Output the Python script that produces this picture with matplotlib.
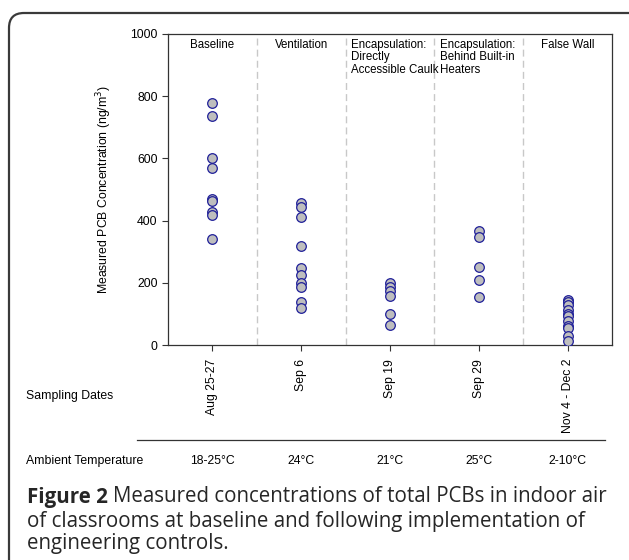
import matplotlib
matplotlib.use("Agg")
import matplotlib.pyplot as plt
from matplotlib.patches import FancyBboxPatch

plt.rcParams['font.family'] = ['Liberation Sans', 'DejaVu Sans']

W, H = 629, 560

# measured total PCB concentrations (ng/m3) per sampling phase
phases = ["Baseline", "Ventilation", "Encapsulation:\nDirectly\nAccessible Caulk",
          "Encapsulation:\nBehind Built-in\nHeaters", "False Wall"]
dates = ["Aug 25-27", "Sep 6", "Sep 19", "Sep 29", "Nov 4 - Dec 2"]
temps = ["18-25°C", "24°C", "21°C", "25°C", "2-10°C"]

baseline = [777, 736, 602, 570, 468, 464, 427, 418, 341]
ventilation = [458, 445, 410, 319, 246, 225, 198, 185, 139, 118]
caulk = [198, 188, 175, 158, 100, 64]
heaters = [367, 346, 252, 210, 153]
false_wall = [145, 138, 128, 112, 100, 92, 78, 62, 55, 30, 12]
values = [baseline, ventilation, caulk, heaters, false_wall]


def fx(x):
    return x / W


def fy(y):
    return 1 - y / H


fig = plt.figure(figsize=(W / 100, H / 100), dpi=100)

# rounded frame around the whole figure
frame = FancyBboxPatch((9, -30), 660, H - 13 + 30,
                       boxstyle="round,pad=0,rounding_size=15",
                       transform=None, fill=False, ec="#3a3a3a", lw=1.6)
fig.patches.append(frame)

ax = fig.add_axes([fx(168), fy(345), fx(612) - fx(168), (345 - 34) / H])

for i, vals in enumerate(values):
    ax.scatter([i + 1] * len(vals), vals, s=48, facecolor="#bebebe",
               edgecolor="#1f1f99", linewidth=0.9, zorder=3)

for xd in [1.5, 2.5, 3.5, 4.5]:
    ax.axvline(xd, color="#c8c8c8", ls=(0, (5, 3)), lw=1.0, zorder=1)

ax.set_xlim(0.5, 5.5)
ax.set_ylim(0, 1000)
ax.set_yticks(range(0, 1001, 200))
ax.set_xticks(range(1, 6))
ax.set_xticklabels(dates, rotation=90, fontsize=8.8, va="top")
ax.tick_params(axis="y", labelsize=8.8, length=4, width=0.8, color="#333333")
ax.tick_params(axis="x", length=4, width=0.8, pad=6, color="#333333")
for sp in ax.spines.values():
    sp.set_linewidth(0.9)
    sp.set_color("#333333")
ax.set_ylabel("Measured PCB Concentration (ng/m$^3$)", fontsize=8.8, labelpad=12)

# phase names along the top of each panel
for i, name in enumerate(phases):
    if name.startswith("Encapsulation"):
        ax.text(i + 0.56, 985, name, ha="left", va="top", fontsize=8.3,
                linespacing=1.05)
    else:
        ax.text(i + 1, 985, name, ha="center", va="top", fontsize=8.3)

# sampling dates and ambient temperature rows
fig.text(fx(26), fy(396), "Sampling Dates", ha="left", va="center", fontsize=8.8)
fig.add_artist(plt.Line2D([fx(137), fx(605)], [fy(440), fy(440)],
                          color="#333333", lw=0.9))
fig.text(fx(26), fy(461), "Ambient Temperature", ha="left", va="center", fontsize=8.8)
for i, t in enumerate(temps):
    xd = ax.transData.transform((i + 1, 0))[0]
    fig.text(xd / W, fy(461), t, ha="center", va="center", fontsize=8.8)

# caption
cap = dict(fontsize=14.8, color="#262626", family=["Open Sans", "DejaVu Sans"],
           ha="left", va="center")
t1 = fig.text(fx(27), fy(497), "Figure 2", weight="bold", **cap)
fig.canvas.draw()
bb = t1.get_window_extent()
fig.text((bb.x1 + 5) / W, fy(497),
         "Measured concentrations of total PCBs in indoor air", **cap)
fig.text(fx(27), fy(521),
         "of classrooms at baseline and following implementation of", **cap)
fig.text(fx(27), fy(544), "engineering controls.", **cap)

fig.savefig("out.png", dpi=100)
